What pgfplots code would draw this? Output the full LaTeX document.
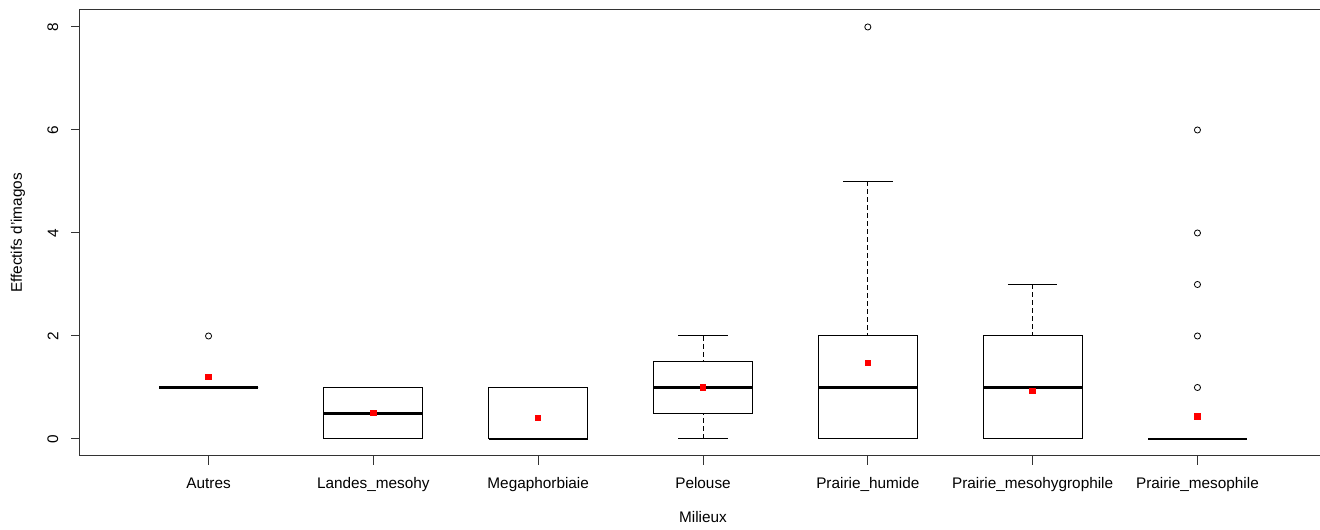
\documentclass[border=0pt]{standalone}
\usepackage{fontspec}
\setmainfont{Liberation Sans}
\usepackage{pgfplots}
\pgfplotsset{compat=1.18}
\usepgfplotslibrary{statistics}
\begin{document}
\begin{tikzpicture}
\useasboundingbox (-60pt,-55.5pt) rectangle (930pt,342pt);
\begin{axis}[
  at={(0,0)}, anchor=south west,
  scale only axis, width=934.5pt, height=334.5pt,
  xmin=0.22, xmax=7.78, ymin=-0.33, ymax=8.33,
  axis line style={draw=black!80, line width=0.75pt},
  xtick={1,2,3,4,5,6,7},
  xticklabels={Autres,Landes\_mesohy,Megaphorbiaie,Pelouse,Prairie\_humide,Prairie\_mesohygrophile,Prairie\_mesophile},
  ytick={0,2,4,6,8},
  xtick pos=left, ytick pos=left,
  tick align=outside, major tick length=6.5pt,
  tick style={draw=black!80, line width=0.75pt},
  tick label style={font=\fontsize{11.5}{13}\selectfont},
  /pgf/number format/assume math mode=true,
  xticklabel style={inner sep=0pt, anchor=north, yshift=-9.5pt},
  yticklabel style={rotate=90, anchor=south, inner sep=0pt, yshift=9.5pt},
  xlabel={Milieux}, ylabel={Effectifs d'imagos},
  label style={font=\fontsize{11.5}{13}\selectfont},
  xlabel style={at={(axis description cs:0.5,-0.148)}, anchor=base, inner sep=0pt},
  ylabel style={at={(axis description cs:-0.0466,0.5)}, anchor=base, rotate=0, inner sep=0pt},
  boxplot/draw direction=y,
  boxplot/box extend=0.6,
  boxplot/whisker extend=0.3,
  boxplot/every median/.style={line width=2.1pt},
  boxplot/draw/lower whisker/.code={%
    \draw[dash pattern=on 3.5pt off 2.5pt]
      (boxplot cs:\pgfplotsboxplotvalue{lower whisker}) --
      (boxplot cs:\pgfplotsboxplotvalue{lower quartile});
    \draw (boxplot whisker cs:\pgfplotsboxplotvalue{lower whisker},0) --
      (boxplot whisker cs:\pgfplotsboxplotvalue{lower whisker},1);
  },
  boxplot/draw/upper whisker/.code={%
    \draw[dash pattern=on 3.5pt off 2.5pt]
      (boxplot cs:\pgfplotsboxplotvalue{upper whisker}) --
      (boxplot cs:\pgfplotsboxplotvalue{upper quartile});
    \draw (boxplot whisker cs:\pgfplotsboxplotvalue{upper whisker},0) --
      (boxplot whisker cs:\pgfplotsboxplotvalue{upper whisker},1);
  },
]
\pgfplotsset{bxstyle/.style={black, line width=0.75pt, mark=o, mark size=2.3pt, mark options={solid, line width=0.6pt}}}
% Autres
\addplot[bxstyle, boxplot prepared={draw position=1, median=1, lower quartile=1, upper quartile=1, lower whisker=1, upper whisker=1}]
  table[row sep=\\, y index=0] {v\\ 2\\};
% Landes_mesohy
\addplot[bxstyle, boxplot prepared={draw position=2, median=0.5, lower quartile=0, upper quartile=1, lower whisker=0, upper whisker=1}]
  coordinates {};
% Megaphorbiaie
\addplot[bxstyle, boxplot prepared={draw position=3, median=0, lower quartile=0, upper quartile=1, lower whisker=0, upper whisker=1}]
  coordinates {};
% Pelouse
\addplot[bxstyle, boxplot prepared={draw position=4, median=1, lower quartile=0.5, upper quartile=1.5, lower whisker=0, upper whisker=2}]
  coordinates {};
% Prairie_humide
\addplot[bxstyle, boxplot prepared={draw position=5, median=1, lower quartile=0, upper quartile=2, lower whisker=0, upper whisker=5}]
  table[row sep=\\, y index=0] {v\\ 8\\};
% Prairie_mesohygrophile
\addplot[bxstyle, boxplot prepared={draw position=6, median=1, lower quartile=0, upper quartile=2, lower whisker=0, upper whisker=3}]
  coordinates {};
% Prairie_mesophile
\addplot[bxstyle, boxplot prepared={draw position=7, median=0, lower quartile=0, upper quartile=0, lower whisker=0, upper whisker=0}]
  table[row sep=\\, y index=0] {v\\ 1\\ 2\\ 3\\ 4\\ 6\\};
% means
\addplot[only marks, mark=square*, mark size=2pt, mark options={fill=red, draw=red, line width=0pt}]
  coordinates {(1,1.2) (2,0.5) (3,0.41) (4,1.0) (5,1.48) (6,0.93) (7,0.44)};
\end{axis}
\end{tikzpicture}
\end{document}
